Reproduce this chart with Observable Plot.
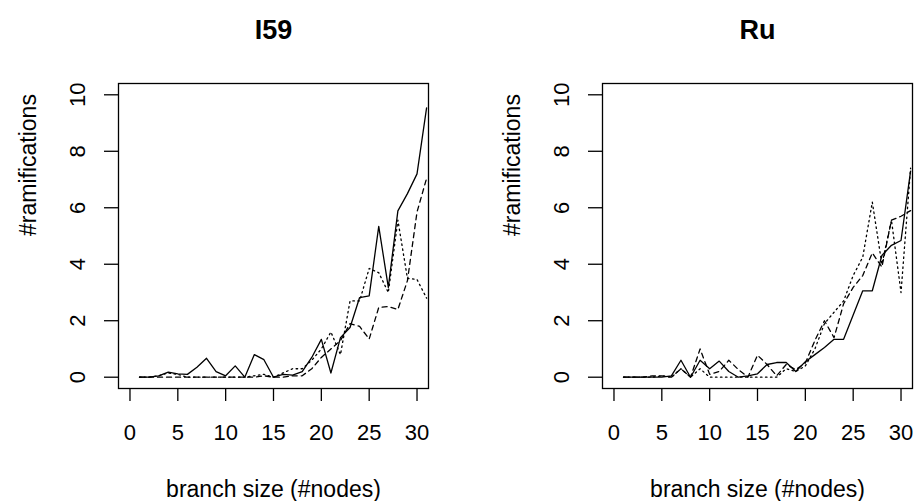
<!DOCTYPE html>
<html><head><meta charset="utf-8">
<script src="https://cdn.jsdelivr.net/npm/d3@7"></script>
<script src="https://cdn.jsdelivr.net/npm/@observablehq/plot@0.6"></script>
<style>
body{margin:0;background:#fff;}
#wrap{display:flex;width:914px;height:501px;overflow:hidden;}
#wrap svg{display:block;}
</style></head><body><div id="wrap"></div>
<script>
const nodes = [1,2,3,4,5,6,7,8,9,10,11,12,13,14,15,16,17,18,19,20,21,22,23,24,25,26,27,28,29,30,31];
const xTicks = [0,5,10,15,20,25,30];
const yTicks = [0,2,4,6,8,10];
const titles = ["I59", "Ru"];
const xLabel = "branch size (#nodes)";
const yLabel = "#ramifications";

const i59Solid  = [0,0,0.05,0.18,0.12,0.1,0.35,0.67,0.2,0.05,0.4,0,0.8,0.62,0,0.1,0.07,0.2,0.7,1.34,0.15,1.4,1.76,2.82,2.88,5.34,3.18,5.89,6.5,7.2,9.54];
const i59Dashed = [0,0,0,0,0,0,0,0,0,0,0,0,0,0.05,0,0,0.05,0.05,0.3,0.7,1.0,1.3,1.9,1.8,1.35,2.47,2.5,2.4,3.42,5.85,7.04];
const i59Dotted = [0,0,0.05,0.15,0.1,0,0,0,0,0,0,0,0.05,0.1,0,0.15,0.3,0.3,0.6,1.0,1.6,0.8,2.7,2.7,3.85,3.7,3.0,5.56,3.5,3.46,2.8];

const ruSolid  = [0,0,0,0,0,0.05,0.6,0,0.6,0.3,0.57,0.2,0,0.05,0.12,0.45,0.52,0.52,0.2,0.55,0.8,1.05,1.34,1.34,2.2,3.06,3.06,4.31,4.67,4.84,7.3];
const ruDashed = [0,0,0,0.05,0.05,0,0.3,0,1.0,0.1,0.2,0.6,0.27,0,0.78,0.45,0.05,0.45,0.27,0.5,1.3,2.0,1.4,2.6,3.18,3.6,4.4,3.9,5.56,5.7,5.9];
const ruDotted = [0,0,0,0,0.05,0,0.3,0,0.3,0,0,0,0,0,0,0,0,0.3,0.2,0.4,1.0,1.9,2.3,2.7,3.6,4.25,6.2,4.0,5.56,3.0,7.4];

function rows(vals){ return nodes.map((n,i)=>({x:n, y:vals[i]})); }

function panel(title, solid, dashed, dotted, ml, mr){
  const lineOpts = {x:"x", y:"y", stroke:"#000", strokeWidth:1.3, clip:true};
  return Plot.plot({
    width:457, height:501,
    marginLeft:ml, marginRight:mr, marginTop:83, marginBottom:113,
    x:{domain:[-1.2,31.2]},
    y:{domain:[-0.4,10.4]},
    style:{fontFamily:"'Liberation Sans', Arial, sans-serif", fontSize:"22px", color:"#000", background:"#fff", overflow:"visible"},
    marks:[
      Plot.axisX({ticks:xTicks, tickSize:13, tickPadding:23, label:null, strokeWidth:1.3}),
      Plot.axisY({ticks:yTicks, tickSize:14, tickPadding:20, tickRotate:-90, label:null, strokeWidth:1.3}),
      Plot.line(rows(solid), {...lineOpts}),
      Plot.line(rows(dashed), {...lineOpts, strokeDasharray:"5,4"}),
      Plot.line(rows(dotted), {...lineOpts, strokeDasharray:"1.5,3.5"}),
      Plot.frame({stroke:"#000", strokeWidth:1.3}),
      Plot.text([title], {frameAnchor:"top", dy:-45, lineAnchor:"bottom", fontWeight:"bold", fontSize:27}),
      Plot.text([xLabel], {frameAnchor:"bottom", dy:108, lineAnchor:"bottom", fontSize:23}),
      Plot.text([yLabel], {frameAnchor:"left", dx:-90, rotate:-90, lineAnchor:"middle", fontSize:23})
    ]
  });
}

const wrap = document.getElementById("wrap");
wrap.appendChild(panel(titles[0], i59Solid, i59Dashed, i59Dotted, 118, 29));
wrap.appendChild(panel(titles[1], ruSolid, ruDashed, ruDotted, 145, 2));
</script></body></html>
